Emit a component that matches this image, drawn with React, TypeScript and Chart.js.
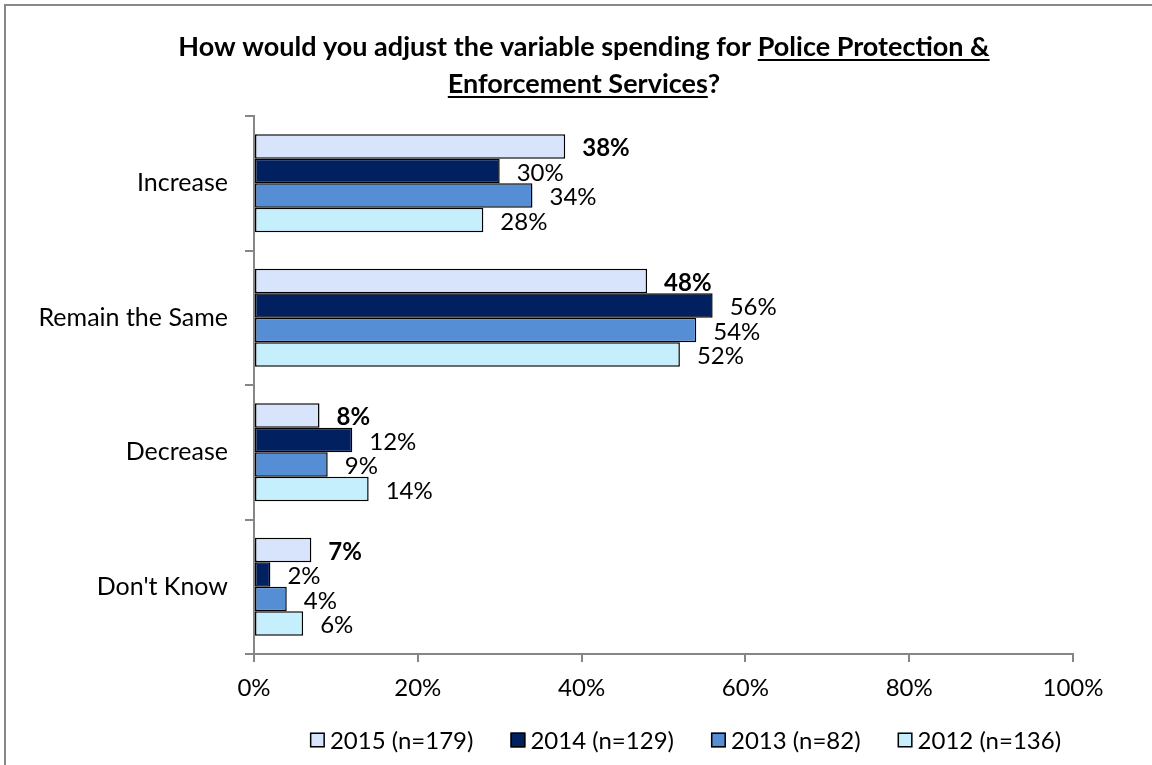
import React, { useEffect, useRef } from "react";
import { Chart, registerables } from "chart.js";

Chart.register(...registerables);

const categories = ["Increase", "Remain the Same", "Decrease", "Don't Know"];
const seriesLabels = ["2015 (n=179)", "2014 (n=129)", "2013 (n=82)", "2012 (n=136)"];
const values2015 = [38, 48, 8, 7];
const values2014 = [30, 56, 12, 2];
const values2013 = [34, 54, 9, 4];
const values2012 = [28, 52, 14, 6];
const seriesValues = [values2015, values2014, values2013, values2012];
const seriesColors = ["#D7E4FB", "#002060", "#558ED5", "#C6EFFD"];
const xTickValues = [0, 20, 40, 60, 80, 100];
const titleLine1 = [
  { text: "How would you adjust the variable spending for ", underline: false },
  { text: "Police Protection &", underline: true },
];
const titleLine2 = [
  { text: "Enforcement Services", underline: true },
  { text: "?", underline: false },
];

const FONT = "Lato";
const AXIS_GRAY = "#868686";

const titlePlugin = {
  id: "underlinedTitle",
  afterDraw(chart: any) {
    const ctx = chart.ctx as CanvasRenderingContext2D;
    ctx.save();
    ctx.font = `bold 27px ${FONT}`;
    ctx.fillStyle = "#000";
    ctx.textBaseline = "alphabetic";
    ctx.textAlign = "left";
    const lines = [titleLine1, titleLine2];
    const baselines = [56, 93];
    const centerX = 584;
    lines.forEach((segs, i) => {
      const total = segs.reduce((s, g) => s + ctx.measureText(g.text).width, 0);
      let x = centerX - total / 2;
      const y = baselines[i];
      segs.forEach((g) => {
        const w = ctx.measureText(g.text).width;
        ctx.fillText(g.text, x, y);
        if (g.underline) ctx.fillRect(x, y + 3, w, 2);
        x += w;
      });
    });
    ctx.restore();
  },
};

const valueLabelPlugin = {
  id: "valueLabels",
  afterDatasetsDraw(chart: any) {
    const ctx = chart.ctx as CanvasRenderingContext2D;
    ctx.save();
    ctx.fillStyle = "#000";
    ctx.textAlign = "left";
    ctx.textBaseline = "middle";
    chart.data.datasets.forEach((ds: any, di: number) => {
      const meta = chart.getDatasetMeta(di);
      ctx.font = `${di === 0 ? "bold " : ""}24px ${FONT}`;
      meta.data.forEach((el: any, i: number) => {
        ctx.fillText(`${ds.data[i]}%`, el.x + 17, el.y + 2);
      });
    });
    ctx.restore();
  },
};

const legendPlugin = {
  id: "customLegend",
  afterDraw(chart: any) {
    const ctx = chart.ctx as CanvasRenderingContext2D;
    ctx.save();
    ctx.font = `24px ${FONT}`;
    ctx.textBaseline = "middle";
    ctx.textAlign = "left";
    const box = 15;
    const gapText = 5;
    const gapItem = 37;
    const widths = seriesLabels.map((l) => ctx.measureText(l).width);
    const total =
      widths.reduce((s, w) => s + w + box + gapText, 0) + gapItem * (seriesLabels.length - 1);
    let x = 685.5 - total / 2;
    const cy = 740;
    seriesLabels.forEach((l, i) => {
      ctx.fillStyle = seriesColors[i];
      ctx.fillRect(x, cy - box / 2, box, box);
      ctx.strokeStyle = "#000";
      ctx.lineWidth = 1.5;
      ctx.strokeRect(x + 0.75, cy - box / 2 + 0.75, box - 1.5, box - 1.5);
      ctx.fillStyle = "#000";
      ctx.fillText(l, x + box + gapText, cy + 1);
      x += box + gapText + widths[i] + gapItem;
    });
    ctx.restore();
  },
};

export default function App() {
  const canvasRef = useRef<HTMLCanvasElement | null>(null);

  useEffect(() => {
    if (!canvasRef.current) return;
    Chart.defaults.font.family = FONT;
    const chart = new Chart(canvasRef.current, {
      type: "bar",
      data: {
        labels: categories,
        datasets: seriesValues.map((vals, i) => ({
          label: seriesLabels[i],
          data: vals,
          backgroundColor: seriesColors[i],
          borderColor: "#000",
          borderWidth: 1.5,
          borderSkipped: false,
          barPercentage: 1,
          categoryPercentage: 0.73,
        })),
      },
      options: {
        indexAxis: "y",
        responsive: false,
        animation: false,
        layout: { padding: { top: 116, right: 79, left: 0, bottom: 0 } },
        plugins: {
          legend: { display: false },
          title: { display: false },
          tooltip: { enabled: false },
        },
        scales: {
          x: {
            min: 0,
            max: 100,
            position: "bottom",
            afterBuildTicks: (s: any) => {
              s.ticks = xTickValues.map((v) => ({ value: v }));
            },
            afterFit: (s: any) => {
              s.height = 111;
            },
            grid: {
              drawOnChartArea: false,
              drawTicks: true,
              tickLength: 8,
              color: AXIS_GRAY,
              lineWidth: 2,
            },
            border: { color: AXIS_GRAY, width: 2 },
            ticks: {
              padding: 12,
              color: "#000",
              font: { size: 24, family: FONT },
              callback: (v: any) => `${v}%`,
            },
          },
          y: {
            afterFit: (s: any) => {
              s.width = 254;
            },
            grid: {
              offset: true,
              drawOnChartArea: false,
              drawTicks: true,
              tickLength: 9,
              color: AXIS_GRAY,
              lineWidth: 2,
            },
            border: { color: AXIS_GRAY, width: 2 },
            ticks: {
              padding: 17,
              color: "#000",
              font: { size: 25, family: FONT },
            },
          },
        },
      },
      plugins: [titlePlugin, valueLabelPlugin, legendPlugin],
    } as any);
    return () => chart.destroy();
  }, []);

  return (
    <div
      style={{
        position: "absolute",
        left: 0,
        top: 0,
        width: 1152,
        height: 765,
        background: "#fff",
        overflow: "hidden",
      }}
    >
      <div
        style={{
          position: "absolute",
          left: 4,
          top: 4,
          width: 1148,
          height: 761,
          borderLeft: "2px solid #898989",
          borderTop: "2px solid #898989",
          boxSizing: "border-box",
        }}
      />
      <canvas
        ref={canvasRef}
        width={1152}
        height={765}
        style={{ position: "absolute", left: 0, top: 0, width: 1152, height: 765 }}
      />
    </div>
  );
}
